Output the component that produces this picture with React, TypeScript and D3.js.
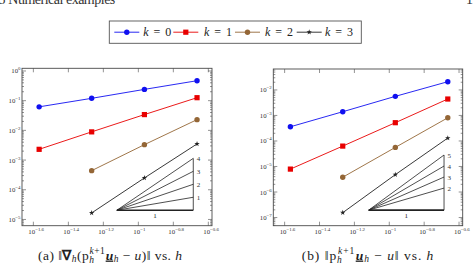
import React from "react";
import * as d3 from "d3";

// Mesh sizes (h halves at each refinement)
const hValues = [0.0271, 0.0541, 0.1083, 0.2165];
const xTickExps = [-1.6, -1.4, -1.2, -1, -0.8, -0.6];

// (a) energy-norm errors per polynomial degree k
const gradErrK0 = [0.062, 0.12, 0.24, 0.47];
const gradErrK1 = [2.3e-3, 8.9e-3, 3.4e-2, 0.126];
const gradErrK2 = [null, 4.4e-4, 3.3e-3, 2.3e-2];
const gradErrK3 = [null, 1.66e-5, 2.5e-4, 3.5e-3];

// (b) L2-norm errors per polynomial degree k
const l2ErrK0 = [3.6e-4, 1.4e-3, 5.6e-3, 2.1e-2];
const l2ErrK1 = [7.9e-6, 6.3e-5, 5.2e-4, 4.4e-3];
const l2ErrK2 = [null, 3.8e-6, 5.6e-5, 8.1e-4];
const l2ErrK3 = [null, 1.55e-7, 4.8e-6, 1.3e-4];

const leftYTickExps = [0, -1, -2, -3, -4, -5];
const rightYTickExps = [-2, -3, -4, -5, -6, -7];
const leftSlopes = [1, 2, 3, 4];
const rightSlopes = [2, 3, 4, 5];
const legendDegrees = ["0", "1", "2", "3"];

type Style = { color: string; marker: "circle" | "square" | "star" };
const styles: Style[] = [
  { color: "#1010f0", marker: "circle" },
  { color: "#e80000", marker: "square" },
  { color: "#946636", marker: "circle" },
  { color: "#222222", marker: "star" },
];

const SERIF = "Liberation Serif";
const FRAME = "#4a4a4a";

function Marker({ x, y, s }: { x: number; y: number; s: Style }) {
  if (s.marker === "circle") return <circle cx={x} cy={y} r={2.7} fill={s.color} />;
  if (s.marker === "square")
    return <rect x={x - 2.6} y={y - 2.6} width={5.2} height={5.2} fill={s.color} />;
  const star = d3.symbol().type(d3.symbolStar).size(9)();
  return <path d={star || ""} transform={`translate(${x},${y})`} fill={s.color} />;
}

function Pow10({ x, y, exp, anchor }: { x: number; y: number; exp: string; anchor: string }) {
  return (
    <text x={x} y={y} style={{ fontFamily: SERIF }} fontSize={6.8} fill="#333" textAnchor={anchor}>
      10
      <tspan dy={-3} fontSize={4.9}>
        {exp}
      </tspan>
    </text>
  );
}

const fmtExp = (e: number) => (e < 0 ? "\u2212" : "") + String(Math.abs(e));

type PanelProps = {
  left: number;
  right: number;
  top: number;
  bottom: number;
  yLogMin: number;
  yLogMax: number;
  series: (number | null)[][];
  yTickExps: number[];
  slopes: number[];
  triX: [number, number];
  triYLog: number;
};

function Panel(p: PanelProps) {
  const x = d3.scaleLog().domain([10 ** -1.665, 10 ** -0.579]).range([p.left, p.right]);
  const y = d3
    .scaleLog()
    .domain([10 ** p.yLogMin, 10 ** p.yLogMax])
    .range([p.bottom, p.top]);

  const line = d3
    .line<[number, number | null]>()
    .defined((d) => d[1] != null)
    .x((d) => x(d[0]))
    .y((d) => y(d[1] as number));

  const minor: number[] = [];
  for (let d = Math.floor(p.yLogMin); d <= Math.ceil(p.yLogMax); d++) {
    for (let m = 2; m <= 9; m++) {
      const v = m * 10 ** d;
      if (Math.log10(v) > p.yLogMin && Math.log10(v) < p.yLogMax) minor.push(v);
    }
  }

  const [tx0, tx1] = p.triX.map((e) => 10 ** e);
  const base = 10 ** p.triYLog;
  const topSlope = p.slopes[p.slopes.length - 1];

  return (
    <g>
      {/* slope triangle fan */}
      <g stroke="#222" strokeWidth={0.8} fill="none">
        {p.slopes.map((s) => (
          <line key={s} x1={x(tx0)} y1={y(base)} x2={x(tx1)} y2={y(base * (tx1 / tx0) ** s)} />
        ))}
        <line x1={x(tx1)} y1={y(base)} x2={x(tx1)} y2={y(base * (tx1 / tx0) ** topSlope)} />
        <line x1={x(tx0)} y1={y(base)} x2={x(tx1)} y2={y(base)} strokeWidth={1.6} />
      </g>
      {p.slopes.map((s) => (
        <text
          key={s}
          x={x(tx1) + 3.5}
          y={y(base * (tx1 / tx0) ** s) + 2.5}
          style={{ fontFamily: SERIF }}
          fontSize={7}
          fill="#333"
        >
          {s}
        </text>
      ))}
      <text
        x={(x(tx0) + x(tx1)) / 2}
        y={y(base) + 8}
        style={{ fontFamily: SERIF }}
        fontSize={7}
        fill="#222"
        textAnchor="middle"
      >
        1
      </text>

      {/* data */}
      {p.series.map((vals, i) => {
        const pts = hValues.map((h, j) => [h, vals[j]] as [number, number | null]);
        return (
          <g key={i}>
            <path d={line(pts) || ""} stroke={styles[i].color} strokeWidth={0.9} fill="none" />
            {pts
              .filter((d) => d[1] != null)
              .map((d, j) => (
                <Marker key={j} x={x(d[0])} y={y(d[1] as number)} s={styles[i]} />
              ))}
          </g>
        );
      })}

      {/* frame and ticks */}
      <rect
        x={p.left}
        y={p.top}
        width={p.right - p.left}
        height={p.bottom - p.top}
        fill="none"
        stroke={FRAME}
        strokeWidth={0.9}
      />
      <g stroke={FRAME} strokeWidth={0.6}>
        {xTickExps.map((e) => {
          const px = x(10 ** e);
          return (
            <g key={e}>
              <line x1={px} x2={px} y1={p.bottom} y2={p.bottom - 4} />
              <line x1={px} x2={px} y1={p.top} y2={p.top + 4} />
            </g>
          );
        })}
        {p.yTickExps.map((e) => {
          const py = y(10 ** e);
          return (
            <g key={e}>
              <line x1={p.left} x2={p.left + 4} y1={py} y2={py} />
              <line x1={p.right} x2={p.right - 4} y1={py} y2={py} />
            </g>
          );
        })}
        {minor.map((v) => {
          const py = y(v);
          return (
            <g key={v}>
              <line x1={p.left} x2={p.left + 2} y1={py} y2={py} />
              <line x1={p.right} x2={p.right - 2} y1={py} y2={py} />
            </g>
          );
        })}
      </g>
      {xTickExps.map((e) => (
        <Pow10 key={e} x={x(10 ** e) - 5} y={p.bottom + 8.5} exp={fmtExp(e)} anchor="start" />
      ))}
      {p.yTickExps.map((e) => (
        <Pow10 key={e} x={p.left - 1.5} y={y(10 ** e) + 2.5} exp={fmtExp(e)} anchor="end" />
      ))}
    </g>
  );
}

function Legend() {
  const entries = [
    { lx: 114.3, tx: 143.3 },
    { lx: 173.3, tx: 204 },
    { lx: 235, tx: 265 },
    { lx: 296.7, tx: 325 },
  ];
  const cy = 32.2;
  return (
    <g>
      <rect x={109.3} y={21} width={252} height={22.3} fill="none" stroke="#555" strokeWidth={0.9} />
      {entries.map((e, i) => (
        <g key={i}>
          <line x1={e.lx} x2={e.lx + 25} y1={cy} y2={cy} stroke={styles[i].color} strokeWidth={0.9} />
          <Marker x={e.lx + 12.5} y={cy} s={styles[i]} />
          <text
            x={e.tx}
            y={cy + 3.8}
            style={{ fontFamily: SERIF }}
            fontSize={12}
            fill="#222"
            textLength={28}
            lengthAdjust="spacing"
          >
            <tspan fontStyle="italic">k</tspan> = {legendDegrees[i]}
          </text>
        </g>
      ))}
    </g>
  );
}

export default function App() {
  return (
    <svg
      width={476}
      height={263}
      style={{ position: "absolute", left: 0, top: 0, background: "#fff", fontFamily: SERIF }}
    >
      <text x={-1.5} y={3.8} style={{ fontFamily: SERIF }} fontSize={14} fill="#333">
        5
      </text>
      <text
        x={8.3}
        y={3.8}
        style={{ fontFamily: SERIF }}
        fontSize={14}
        fill="#333"
        textLength={107}
        lengthAdjust="spacing"
      >
        Numerical examples
      </text>
      <text x={473} y={3.8} style={{ fontFamily: SERIF }} fontSize={14} fill="#333" textAnchor="end">
        1
      </text>
      <Legend />
      <Panel
        left={22}
        right={212}
        top={68.3}
        bottom={225.7}
        yLogMin={-5.21}
        yLogMax={0.09}
        series={[gradErrK0, gradErrK1, gradErrK2, gradErrK3]}
        yTickExps={leftYTickExps}
        slopes={leftSlopes}
        triX={[-1.123, -0.686]}
        triYLog={-4.69}
      />
      <Panel
        left={273.3}
        right={462.7}
        top={69}
        bottom={225.7}
        yLogMin={-7.32}
        yLogMax={-1.18}
        series={[l2ErrK0, l2ErrK1, l2ErrK2, l2ErrK3]}
        yTickExps={rightYTickExps}
        slopes={rightSlopes}
        triX={[-1.118, -0.686]}
        triYLog={-6.71}
      />
      {/* captions */}
      <text
        x={38}
        y={259.5}
        style={{ fontFamily: SERIF }}
        fontSize={13.5}
        fill="#222"
        textLength={144}
        lengthAdjust="spacing"
      >
        (a) ‖<tspan fontWeight="bold">∇</tspan>
        <tspan fontStyle="italic" fontSize={9.5} dy={2.5}>h</tspan>
        <tspan dy={-2.5}>(p</tspan>
        <tspan fontStyle="italic" fontSize={9.5} dy={3}>h</tspan>
        <tspan fontSize={9.5} dx={-4.8} dy={-8.5}>
          <tspan fontStyle="italic">k</tspan>+1
        </tspan>
        <tspan fontStyle="italic" fontWeight="bold" textDecoration="underline" dy={5.5} dx={0.5}>u</tspan>
        <tspan fontStyle="italic" fontSize={9.5} dy={2.5}>h</tspan>
        <tspan dy={-2.5}> − </tspan>
        <tspan fontStyle="italic">u</tspan>)‖ vs. <tspan fontStyle="italic">h</tspan>
      </text>
      <text
        x={301.7}
        y={259.5}
        style={{ fontFamily: SERIF }}
        fontSize={13.5}
        fill="#222"
        textLength={131.6}
        lengthAdjust="spacing"
      >
        (b) ‖p
        <tspan fontStyle="italic" fontSize={9.5} dy={3}>h</tspan>
        <tspan fontSize={9.5} dx={-4.8} dy={-8.5}>
          <tspan fontStyle="italic">k</tspan>+1
        </tspan>
        <tspan fontStyle="italic" fontWeight="bold" textDecoration="underline" dy={5.5} dx={0.5}>u</tspan>
        <tspan fontStyle="italic" fontSize={9.5} dy={2.5}>h</tspan>
        <tspan dy={-2.5}> − </tspan>
        <tspan fontStyle="italic">u</tspan>‖ vs. <tspan fontStyle="italic">h</tspan>
      </text>
    </svg>
  );
}
